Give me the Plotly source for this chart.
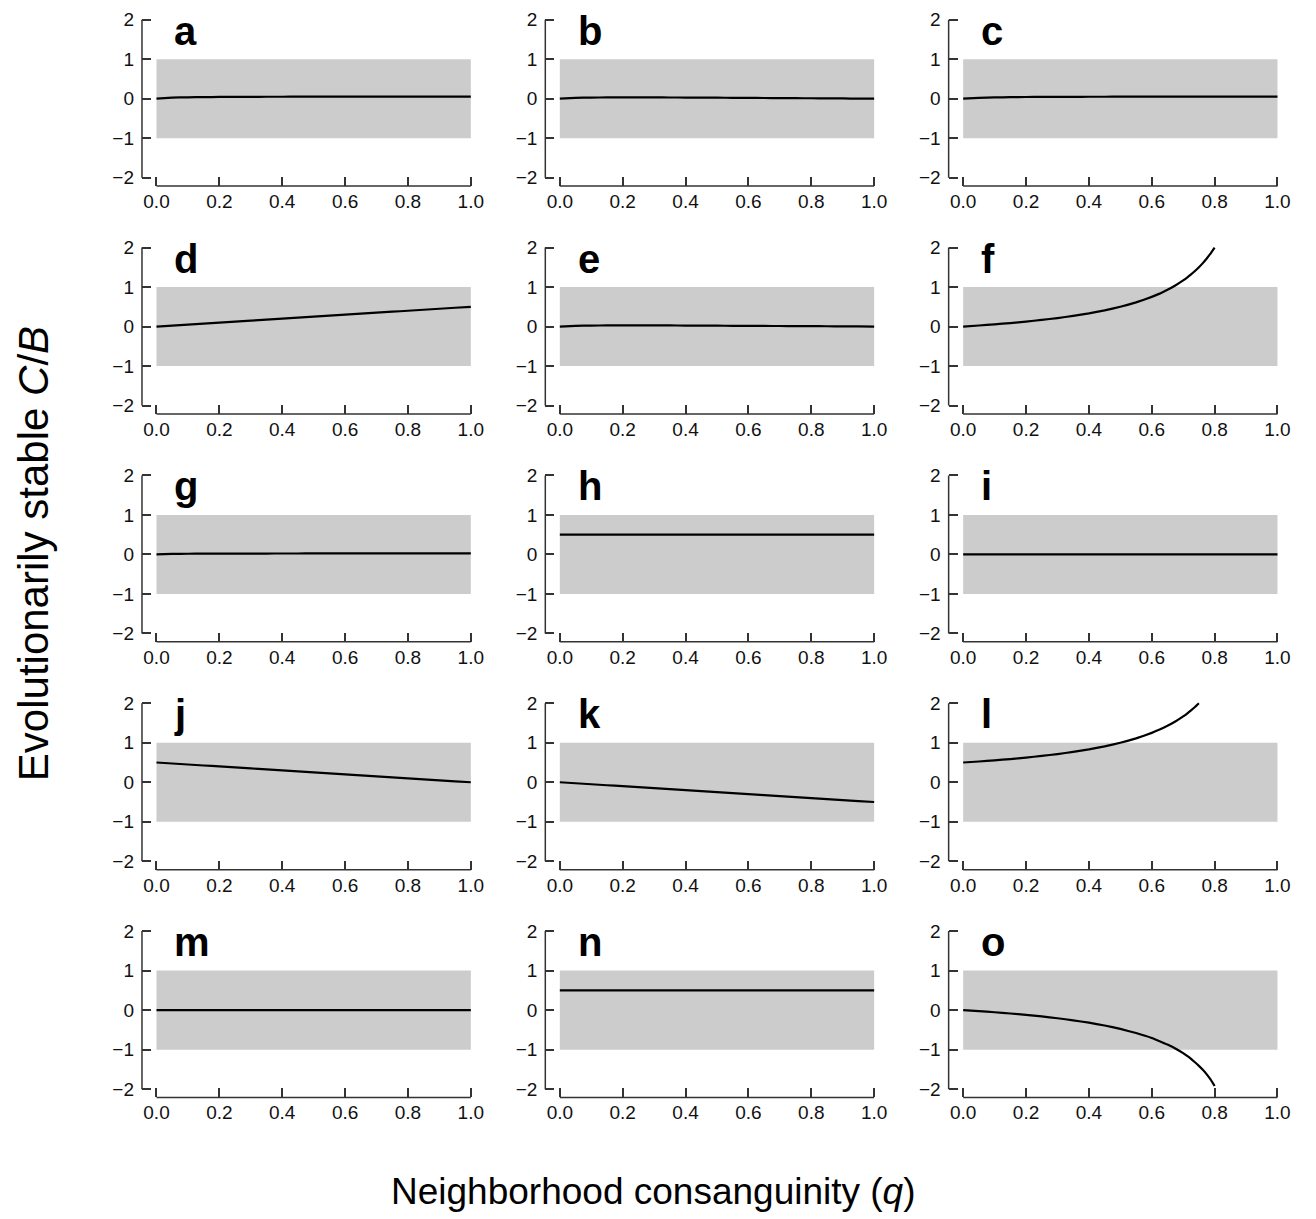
import plotly.graph_objects as go

# ---------------- data ----------------
panel_letters = ["a", "b", "c", "d", "e", "f", "g", "h", "i", "j", "k", "l", "m", "n", "o"]

q_grid = [0.0, 0.05, 0.1, 0.15, 0.2, 0.25, 0.3, 0.35, 0.4, 0.45, 0.5,
          0.55, 0.6, 0.65, 0.7, 0.75, 0.8, 0.85, 0.9, 0.95, 1.0]

a_vals = [0.0, 0.025, 0.035, 0.040, 0.043, 0.045, 0.047, 0.048, 0.049, 0.050, 0.050,
          0.050, 0.050, 0.050, 0.050, 0.050, 0.050, 0.050, 0.050, 0.050, 0.050]
b_vals = [0.0, 0.020, 0.028, 0.031, 0.032, 0.032, 0.031, 0.030, 0.028, 0.026, 0.024,
          0.022, 0.020, 0.017, 0.015, 0.012, 0.010, 0.007, 0.005, 0.002, 0.0]
c_vals = [0.0, 0.022, 0.032, 0.038, 0.042, 0.044, 0.046, 0.047, 0.048, 0.049, 0.050,
          0.050, 0.050, 0.050, 0.050, 0.050, 0.050, 0.050, 0.050, 0.050, 0.050]
d_vals = [0.0, 0.025, 0.05, 0.075, 0.1, 0.125, 0.15, 0.175, 0.2, 0.225, 0.25,
          0.275, 0.3, 0.325, 0.35, 0.375, 0.4, 0.425, 0.45, 0.475, 0.5]
e_vals = [0.0, 0.018, 0.025, 0.028, 0.029, 0.029, 0.028, 0.027, 0.025, 0.023, 0.021,
          0.019, 0.017, 0.015, 0.013, 0.011, 0.009, 0.007, 0.005, 0.002, 0.0]
g_vals = [0.0, 0.012, 0.017, 0.019, 0.020, 0.021, 0.022, 0.022, 0.023, 0.023, 0.024,
          0.024, 0.024, 0.025, 0.025, 0.025, 0.025, 0.025, 0.025, 0.025, 0.025]
h_vals = [0.5] * 21
i_vals = [0.0] * 21
j_vals = [0.5, 0.475, 0.45, 0.425, 0.4, 0.375, 0.35, 0.325, 0.3, 0.275, 0.25,
          0.225, 0.2, 0.175, 0.15, 0.125, 0.1, 0.075, 0.05, 0.025, 0.0]
k_vals = [0.0, -0.025, -0.05, -0.075, -0.1, -0.125, -0.15, -0.175, -0.2, -0.225, -0.25,
          -0.275, -0.3, -0.325, -0.35, -0.375, -0.4, -0.425, -0.45, -0.475, -0.5]
m_vals = [0.0] * 21
n_vals = [0.5] * 21

f_q = [0.0, 0.05, 0.1, 0.15, 0.2, 0.25, 0.3, 0.35, 0.4, 0.45, 0.5, 0.55, 0.6,
       0.625, 0.65, 0.675, 0.7, 0.7125, 0.725, 0.7375, 0.75, 0.7625, 0.775, 0.7875, 0.8]
f_vals = [0.0, 0.026, 0.056, 0.088, 0.125, 0.167, 0.214, 0.269, 0.333, 0.409, 0.5,
          0.611, 0.75, 0.833, 0.929, 1.038, 1.167, 1.239, 1.318, 1.405, 1.5,
          1.605, 1.722, 1.853, 2.0]

l_q = [0.0, 0.05, 0.1, 0.15, 0.2, 0.25, 0.3, 0.35, 0.4, 0.45, 0.5, 0.55, 0.6,
       0.625, 0.65, 0.675, 0.7, 0.7125, 0.725, 0.7375, 0.75]
l_vals = [0.5, 0.526, 0.556, 0.588, 0.625, 0.667, 0.714, 0.769, 0.833, 0.909, 1.0,
          1.111, 1.25, 1.333, 1.429, 1.538, 1.667, 1.739, 1.818, 1.905, 2.0]

o_q = [0.0, 0.05, 0.1, 0.15, 0.2, 0.25, 0.3, 0.35, 0.4, 0.45, 0.5, 0.55, 0.6,
       0.625, 0.65, 0.675, 0.7, 0.7125, 0.725, 0.7375, 0.75, 0.7625, 0.775, 0.7875, 0.8]
o_vals = [0.0, -0.025, -0.053, -0.085, -0.12, -0.16, -0.205, -0.258, -0.318, -0.39,
          -0.475, -0.58, -0.705, -0.785, -0.87, -0.97, -1.09, -1.16, -1.235, -1.32,
          -1.41, -1.51, -1.625, -1.76, -1.92]

series = {
    "a": (q_grid, a_vals), "b": (q_grid, b_vals), "c": (q_grid, c_vals),
    "d": (q_grid, d_vals), "e": (q_grid, e_vals), "f": (f_q, f_vals),
    "g": (q_grid, g_vals), "h": (q_grid, h_vals), "i": (q_grid, i_vals),
    "j": (q_grid, j_vals), "k": (q_grid, k_vals), "l": (l_q, l_vals),
    "m": (q_grid, m_vals), "n": (q_grid, n_vals), "o": (o_q, o_vals),
}

x_ticks = [0.0, 0.2, 0.4, 0.6, 0.8, 1.0]
x_ticklabels = ["0.0", "0.2", "0.4", "0.6", "0.8", "1.0"]
y_ticks = [-2, -1, 0, 1, 2]
y_ticklabels = ["\u22122", "\u22121", "0", "1", "2"]

y_title = "Evolutionarily stable <i>C</i>/<i>B</i>"
x_title = "Neighborhood consanguinity (<i>q</i>)"

# ---------------- layout geometry (pixels, page coords) ----------------
OFF = 8                          # body margin of the html page
W, H = 1316 - OFF, 1219 - OFF
FONT = "Liberation Sans, Arial, Helvetica, sans-serif"
AXC = "#333333"

col_x0 = [157.3, 562.8, 968.3]    # page pixel of q=0
x_unit = 316.0                   # pixels per unit q
row_y2 = [15.7, 244.7, 473.7, 702.7, 931.7]  # page pixel of C/B=2
y_unit = 39.7                    # pixels per unit C/B
ypad_left = 14.6                 # y-axis line offset left of q=0
xpad_bottom = 8.4                # x-axis line offset below -2
pad_right = 6.0
pad_top = 6.0

fig = go.Figure()

for idx, letter in enumerate(panel_letters):
    r, c = divmod(idx, 3)
    n = idx + 1
    sfx = "" if n == 1 else str(n)
    L = col_x0[c] - ypad_left - OFF
    R = col_x0[c] + x_unit + pad_right - OFF
    T = row_y2[r] - pad_top - OFF
    B = row_y2[r] + 4 * y_unit + xpad_bottom - OFF
    xr = [-ypad_left / x_unit, 1 + pad_right / x_unit]
    yr = [-2 - xpad_bottom / y_unit, 2 + pad_top / y_unit]

    fig.layout["xaxis" + sfx] = dict(
        domain=[L / W, R / W], range=xr, anchor="y" + sfx,
        showgrid=False, zeroline=False, showline=False,
        ticks="inside", ticklen=9, tickwidth=1.5, tickcolor=AXC,
        tickvals=x_ticks, ticktext=x_ticklabels, ticklabelstandoff=2,
        tickfont=dict(family=FONT, size=19, color="#111111"),
        fixedrange=True,
    )
    fig.layout["yaxis" + sfx] = dict(
        domain=[1 - B / H, 1 - T / H], range=yr, anchor="x" + sfx,
        showgrid=False, zeroline=False, showline=False,
        ticks="inside", ticklen=9, tickwidth=1.5, tickcolor=AXC,
        tickvals=y_ticks, ticktext=y_ticklabels, ticklabelstandoff=7,
        tickfont=dict(family=FONT, size=19, color="#111111"),
        fixedrange=True,
    )

    xref, yref = "x" + sfx, "y" + sfx
    # gray band
    fig.add_shape(type="rect", xref=xref, yref=yref, x0=0, x1=1, y0=-1, y1=1,
                  fillcolor="#CCCCCC", line=dict(width=0), layer="below")
    # detached axis lines
    fig.add_shape(type="line", xref=xref, yref=yref + " domain", x0=0, x1=1, y0=0, y1=0,
                  line=dict(color=AXC, width=1.5))
    fig.add_shape(type="line", xref=xref + " domain", yref=yref, x0=0, x1=0, y0=-2, y1=2,
                  line=dict(color=AXC, width=1.5))

    qx, vy = series[letter]
    fig.add_trace(go.Scatter(x=qx, y=vy, mode="lines", xaxis=xref, yaxis=yref,
                             line=dict(color="black", width=2.2, shape="spline", smoothing=0.3),
                             showlegend=False, hoverinfo="skip"))

    fig.add_annotation(x=0.05, y=1.72, xref=xref, yref=yref, text="<b>" + letter + "</b>",
                       showarrow=False, xanchor="left", yanchor="middle",
                       font=dict(family=FONT, size=40, color="black"))

fig.add_annotation(x=(33 - OFF) / W, y=1 - (552 - OFF) / H, xref="paper", yref="paper",
                   text=y_title, showarrow=False, textangle=-90,
                   xanchor="center", yanchor="middle",
                   font=dict(family=FONT, size=42, color="black"))
fig.add_annotation(x=(657 - OFF) / W, y=1 - (1193 - OFF) / H, xref="paper", yref="paper",
                   text=x_title, showarrow=False, xanchor="center", yanchor="middle",
                   font=dict(family=FONT, size=37, color="black"))

fig.update_layout(width=W, height=H, margin=dict(l=0, r=0, t=0, b=0),
                  paper_bgcolor="white", plot_bgcolor="white", showlegend=False)

fig.write_html("out.html")
